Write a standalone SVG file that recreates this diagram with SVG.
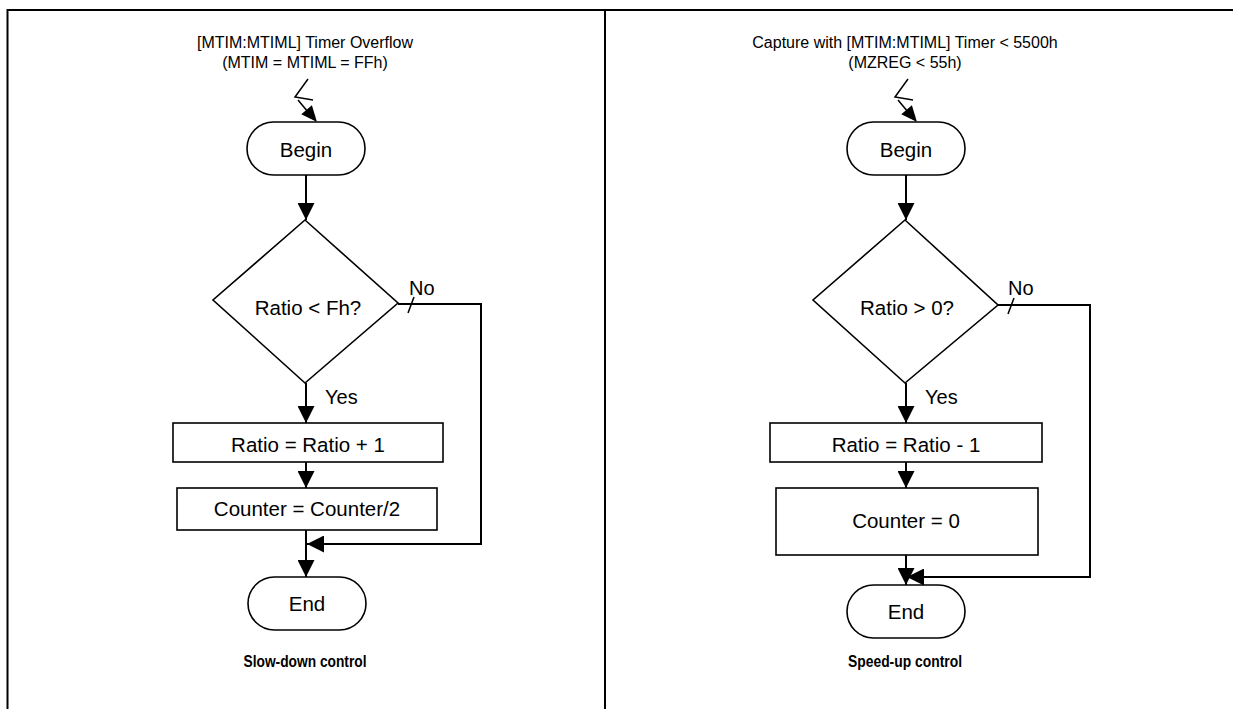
<svg xmlns="http://www.w3.org/2000/svg" width="1233" height="709" viewBox="0 0 1233 709">
<style>
text{font-family:"Liberation Sans",Arial,sans-serif;fill:#000}
.t{font-size:16px;text-anchor:middle}
.b{font-size:20.5px;text-anchor:middle}
.lbl{font-size:20px}
.cap{font-size:16px;font-weight:bold;text-anchor:middle}
.shape{fill:#fff;stroke:#000;stroke-width:1.6}
.ln{fill:none;stroke:#000;stroke-width:2}
.thin{fill:none;stroke:#000;stroke-width:1.5}
</style>
<defs>
<marker id="ahb" viewBox="0 0 10 10" refX="10" refY="5" markerWidth="17" markerHeight="17" markerUnits="userSpaceOnUse" orient="auto"><path d="M0,0 L10,5 L0,10 Z" fill="#000"/></marker>
</defs>
<rect width="1233" height="709" fill="#fff"/>
<g id="frame">
<path d="M7.5,720 V10 H1240" class="ln"/>
<line x1="605" y1="10" x2="605" y2="720" class="ln"/>
</g>
<g id="left-title"><text class="t" x="305" y="48">[MTIM:MTIML] Timer Overflow</text><text class="t" x="305" y="68">(MTIM = MTIML = FFh)</text></g>
<g id="right-title"><text class="t" x="905" y="48">Capture with [MTIM:MTIML] Timer &lt; 5500h</text><text class="t" x="905" y="68">(MZREG &lt; 55h)</text></g>

<g id="left-begin"><rect class="shape" x="247" y="122" width="118" height="53" rx="26.5"/><text class="b" x="306" y="157">Begin</text></g>
<g id="left-decision"><polygon class="shape" points="305,220 398,303 305,383 213,300"/><text class="b" x="308" y="315">Ratio &lt; Fh?</text></g>
<g id="left-inc"><rect class="shape" x="173" y="423" width="270" height="39"/><text class="b" x="308" y="452">Ratio = Ratio + 1</text></g>
<g id="left-half"><rect class="shape" x="177" y="488" width="260" height="42"/><text class="b" x="307" y="516">Counter = Counter/2</text></g>
<g id="left-end"><rect class="shape" x="248" y="577" width="118" height="53" rx="26.5"/><text class="b" x="307" y="611">End</text></g>
<text class="cap" x="305" y="667" textLength="123" lengthAdjust="spacingAndGlyphs">Slow-down control</text>

<g id="right-begin"><rect class="shape" x="847" y="122" width="118" height="53" rx="26.5"/><text class="b" x="906" y="157">Begin</text></g>
<g id="right-decision"><polygon class="shape" points="905,220 998,305 905,383 813,300"/><text class="b" x="907" y="315">Ratio &gt; 0?</text></g>
<g id="right-dec"><rect class="shape" x="770" y="423" width="272" height="39"/><text class="b" x="906" y="452">Ratio = Ratio - 1</text></g>
<g id="right-zero"><rect class="shape" x="776" y="488" width="262" height="67"/><text class="b" x="906" y="528">Counter = 0</text></g>
<g id="right-end"><rect class="shape" x="847" y="585" width="118" height="53" rx="26.5"/><text class="b" x="906" y="619">End</text></g>
<text class="cap" x="905" y="667" textLength="114" lengthAdjust="spacingAndGlyphs">Speed-up control</text>

<g id="connectors">
<polyline class="thin" points="308,79 295,97 313,100"/>
<line class="thin" x1="298" y1="100" x2="308" y2="112"/>
<polygon points="317,122 301.3,114.3 311.9,105.3" fill="#000"/>
<line class="ln" x1="306" y1="175" x2="306" y2="220" marker-end="url(#ahb)"/>
<polyline class="ln" points="398,304 481,304 481,544 307,544" marker-end="url(#ahb)"/>
<line class="thin" x1="414" y1="297" x2="408" y2="313"/>
<text class="lbl" x="409" y="295">No</text>
<line class="ln" x1="306" y1="383" x2="306" y2="423" marker-end="url(#ahb)"/>
<text class="lbl" x="325" y="404">Yes</text>
<line class="ln" x1="306" y1="462" x2="306" y2="488" marker-end="url(#ahb)"/>
<line class="ln" x1="306" y1="530" x2="306" y2="577" marker-end="url(#ahb)"/>

<polyline class="thin" points="908,79 895,97 913,100"/>
<line class="thin" x1="898" y1="100" x2="908" y2="112"/>
<polygon points="917,122 901.3,114.3 911.9,105.3" fill="#000"/>
<line class="ln" x1="906" y1="175" x2="906" y2="220" marker-end="url(#ahb)"/>
<polyline class="ln" points="998,305 1090,305 1090,577 907,577" marker-end="url(#ahb)"/>
<line class="thin" x1="1014" y1="298" x2="1008" y2="314"/>
<text class="lbl" x="1008" y="295">No</text>
<line class="ln" x1="906" y1="383" x2="906" y2="423" marker-end="url(#ahb)"/>
<text class="lbl" x="925" y="404">Yes</text>
<line class="ln" x1="906" y1="462" x2="906" y2="488" marker-end="url(#ahb)"/>
<line class="ln" x1="906" y1="555" x2="906" y2="585" marker-end="url(#ahb)"/>
</g>
</svg>
